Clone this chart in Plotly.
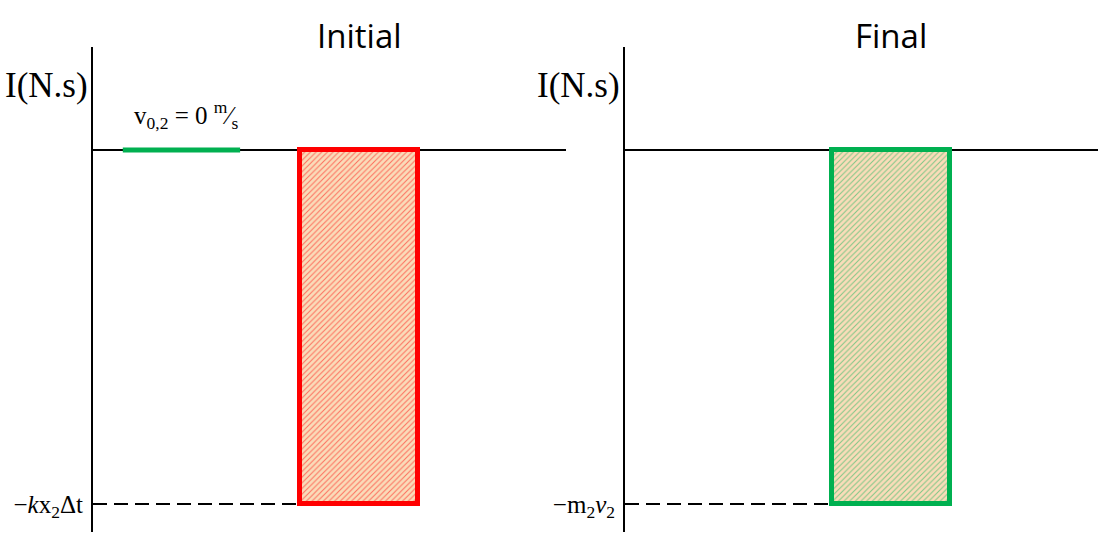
import plotly.graph_objects as go

# Data
panels = ["Initial", "Final"]
bar_values = [-1.0, -1.0]          # impulse (normalised): -k x2 Δt and -m2 v2
bar_colors = ["#ff0000", "#00b050"]
tick_labels = ["\u2212<i>k</i>x<sub>2</sub>\u0394t", "\u2212m<sub>2</sub><i>v</i><sub>2</sub>"]
initial_velocity_value = 0.0       # v0,2 = 0 m/s
bar_pos = 5.62
bar_width = 2.5
green_seg_x = [0.63, 3.11]

W, H = 1098, 534
fig = go.Figure()

x_doms = [(93 / W, 566 / W), (625 / W, 1.0)]
y_dom = (2 / H, 1 - 47 / H)
y_range = [-1.079, 0.291]

serif = "Liberation Serif, Times New Roman, serif"

for i in range(2):
    xa = "x" if i == 0 else "x2"
    ya = "y" if i == 0 else "y2"
    fig.add_trace(go.Bar(
        x=[bar_pos], y=[bar_values[i]], width=[bar_width], base=0,
        marker=dict(color="#fadcb9",
                    line=dict(color=bar_colors[i], width=5),
                    pattern=dict(shape="/", fgcolor=bar_colors[i], bgcolor="#fadcb9",
                                 size=4, solidity=0.25)),
        xaxis=xa, yaxis=ya, showlegend=False, hoverinfo="skip"))
    # dashed level line
    fig.add_trace(go.Scatter(
        x=[0, bar_pos - bar_width / 2], y=[bar_values[i], bar_values[i]],
        mode="lines", line=dict(color="black", width=2, dash="14px,7px"),
        xaxis=xa, yaxis=ya, showlegend=False, hoverinfo="skip"))

# green velocity segment on initial panel
fig.add_trace(go.Scatter(
    x=green_seg_x, y=[initial_velocity_value] * 2, mode="lines",
    line=dict(color="#00b050", width=5), xaxis="x", yaxis="y",
    showlegend=False, hoverinfo="skip"))

for i in range(2):
    sx = "" if i == 0 else "2"
    fig.layout["xaxis" + sx] = dict(domain=list(x_doms[i]), range=[0, 10],
                                    visible=False, fixedrange=True,
                                    anchor="y" + sx)
    fig.layout["yaxis" + sx] = dict(domain=list(y_dom), range=y_range,
                                    anchor="x" + sx, showgrid=False,
                                    zeroline=True, zerolinecolor="black", zerolinewidth=2,
                                    showline=True, linecolor="black", linewidth=2,
                                    tickvals=[bar_values[i]], ticktext=[tick_labels[i]],
                                    ticks="", ticklabelstandoff=3,
                                    tickfont=dict(family=serif, size=25, color="black"),
                                    fixedrange=True)

annotations = [
    dict(text="Initial", x=359 / W, y=1 - 36 / H),
    dict(text="Final", x=891 / W, y=1 - 36 / H),
]
anns = []
for a in annotations:
    anns.append(dict(text=a["text"], x=a["x"], y=a["y"], xref="paper", yref="paper",
                     showarrow=False, xanchor="center", yanchor="middle",
                     font=dict(family="Open Sans, Calibri, sans-serif", size=33, color="black")))
for xp in [46, 578]:
    anns.append(dict(text="I(N.s)", x=xp / W, y=1 - 86 / H, xref="paper", yref="paper",
                     showarrow=False, xanchor="center", yanchor="middle",
                     font=dict(family=serif, size=35, color="black")))
anns.append(dict(text="v<sub>0,2</sub> = 0 <sup>m</sup>\u2044<sub>s</sub>",
                 x=186 / W, y=1 - 115 / H, xref="paper", yref="paper",
                 showarrow=False, xanchor="center", yanchor="middle",
                 font=dict(family=serif, size=25, color="black")))

fig.update_layout(width=W, height=H, margin=dict(l=0, r=0, t=0, b=0),
                  paper_bgcolor="white", plot_bgcolor="white",
                  annotations=anns, bargap=0)

fig.write_html("out.html", config={"displayModeBar": False},
               post_script="document.body.style.margin='0';document.body.style.overflow='hidden';")
